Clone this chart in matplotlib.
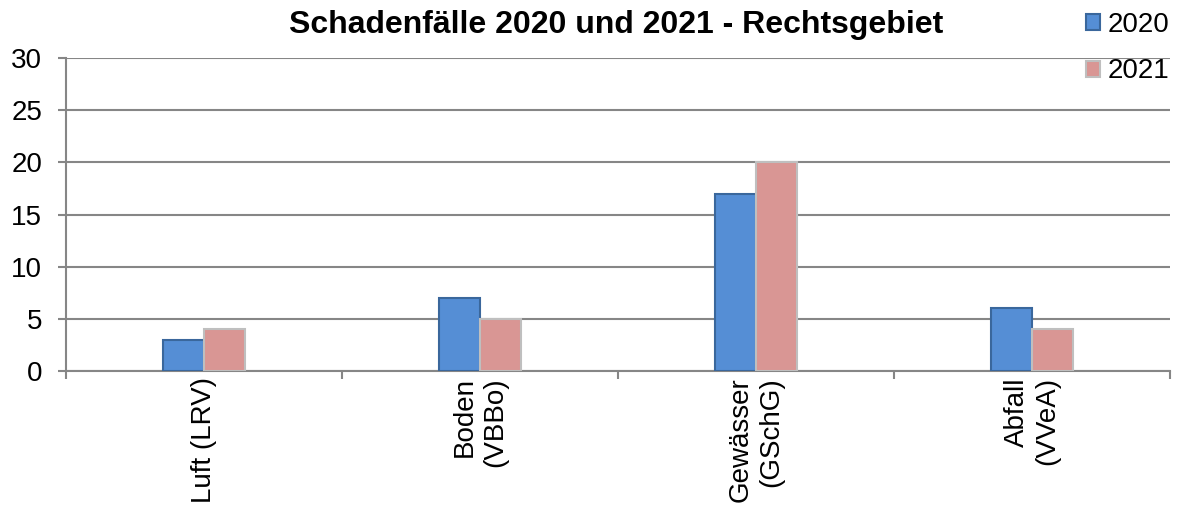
import matplotlib
matplotlib.use("Agg")
import matplotlib.pyplot as plt
import numpy as np

plt.rcParams['font.family'] = ['Liberation Sans', 'DejaVu Sans']

labels = ['Luft (LRV)', 'Boden\n(VBBo)', 'Gewässer\n(GSchG)', 'Abfall\n(VVeA)']
v2020 = [3, 7, 17, 6]
v2021 = [4, 5, 20, 4]

x = np.arange(len(labels))
width = 0.15

fig = plt.figure(figsize=(11.8, 5.12), dpi=100)
ax = fig.add_axes([0.0559, 0.2754, 0.9356, 0.6113])

ax.bar(x - width / 2, v2020, width, label='2020', color='#558ED5',
       edgecolor='#3A679C', linewidth=1.5, zorder=3)
ax.bar(x + width / 2, v2021, width, label='2021', color='#D99694',
       edgecolor='#BFBFBF', linewidth=1.5, zorder=3)

ax.set_xlim(-0.5, len(labels) - 0.5)
ax.set_ylim(0, 30)
ax.set_yticks(range(0, 31, 5))
ax.yaxis.grid(True, color='#868686', linewidth=1.5, zorder=0)
ax.tick_params(axis='y', labelsize=20, length=6, width=1.5, color='#868686', pad=11)

# category ticks sit between the groups, labels at the centres
ax.set_xticks(np.arange(len(labels) + 1) - 0.5)
ax.set_xticklabels([])
ax.tick_params(axis='x', length=6, width=1.5, color='#868686')
for xi, lab in zip(x, labels):
    ax.text(xi, -0.02, lab, transform=ax.get_xaxis_transform(), rotation=90,
            ha='center', va='top', multialignment='right', fontsize=20)

for side in ['top', 'right']:
    ax.spines[side].set_visible(False)
for side in ['left', 'bottom']:
    ax.spines[side].set_color('#868686')
    ax.spines[side].set_linewidth(1.5)

fig.text(0.522, 0.951, 'Schadenfälle 2020 und 2021 - Rechtsgebiet',
         ha='center', va='center', fontsize=23, fontweight='bold')

fig.legend(loc='upper right', bbox_to_anchor=(1.0, 0.999), frameon=False,
           fontsize=20, handlelength=0.5, handleheight=0.5, handletextpad=0.25,
           labelspacing=0.75, borderaxespad=0.0)

fig.savefig('out.png', dpi=100)
